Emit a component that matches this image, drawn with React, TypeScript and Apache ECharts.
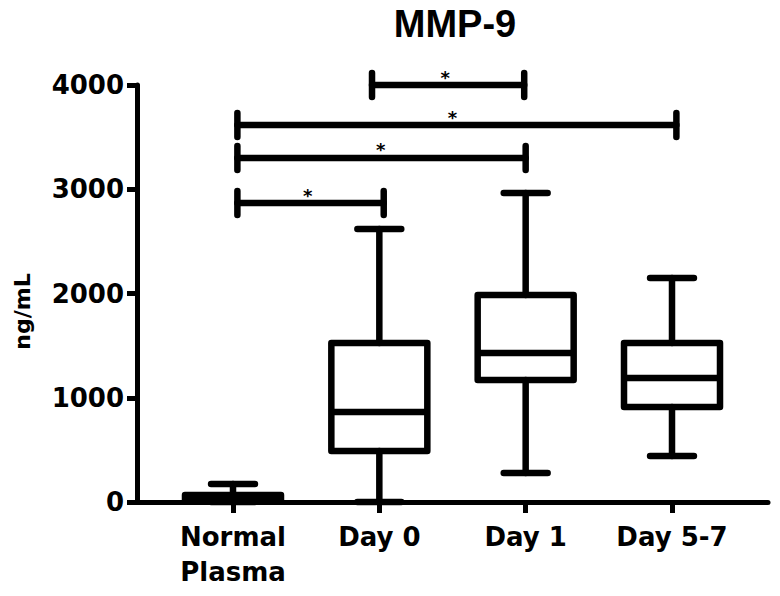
import React, { useEffect, useRef } from "react";
import * as echarts from "echarts";

// Categories (x positions 0..3)
const categories = ["Normal\nPlasma", "Day 0", "Day 1", "Day 5-7"];
// Box-and-whisker values (ng/mL)
const whiskerLow = [0, 0, 278, 441];
const q1 = [15, 489, 1170, 911];
const median = [40, 863, 1429, 1189];
const q3 = [67, 1525, 1986, 1525];
const whiskerHigh = [173, 2619, 2964, 2149];

// Significance brackets (x in category units, level in ng/mL)
const sigFrom = [0.95, 0.03, 0.03, 0.03];
const sigTo = [1.99, 3.03, 2.0, 1.03];
const sigLevel = [4000, 3616, 3300, 2868];
const sigStarAt = [1.45, 1.5, 1.01, 0.51];
const sigLabel = ["*", "*", "*", "*"];

const yTicks = [0, 1000, 2000, 3000, 4000];

export default function App() {
  const ref = useRef<HTMLDivElement>(null);
  useEffect(() => {
    if (!ref.current) return;
    const chart = echarts.init(ref.current, null, { renderer: "svg" });
    const boxData = categories.map((_, i) => [
      i,
      whiskerLow[i],
      q1[i],
      median[i],
      q3[i],
      whiskerHigh[i],
    ]);
    const sigData = sigFrom.map((f, i) => [f, sigTo[i], sigLevel[i], sigStarAt[i]]);
    const font = "DejaVu Sans";
    const option: any = {
      animation: false,
      backgroundColor: "#ffffff",
      title: {
        text: "MMP-9",
        left: 450,
        top: 0,
        textAlign: "center",
        textStyle: {
          fontFamily: "Liberation Sans",
          fontWeight: "bold",
          fontSize: 38,
          color: "#000",
        },
      },
      grid: { left: 137, right: 12, top: 85, bottom: 94 },
      xAxis: {
        type: "value",
        min: -0.656,
        max: 3.656,
        splitLine: { show: false },
        axisLine: { onZero: false, lineStyle: { color: "#000", width: 5 } },
        axisTick: {
          customValues: [0, 1, 2, 3],
          length: 11,
          lineStyle: { color: "#000", width: 5 },
        },
        axisLabel: {
          customValues: [0, 1, 2, 3],
          formatter: (v: number) => categories[Math.round(v)],
          margin: 17,
          fontFamily: font,
          fontWeight: "bold",
          fontSize: 26,
          lineHeight: 35,
          color: "#000",
        },
      },
      yAxis: {
        type: "value",
        min: yTicks[0],
        max: yTicks[yTicks.length - 1],
        interval: 1000,
        name: "ng/mL",
        nameLocation: "middle",
        nameGap: 104,
        nameRotate: 90,
        nameTextStyle: {
          fontFamily: font,
          fontWeight: "bold",
          fontSize: 22,
          color: "#000",
          padding: [0, 36, 0, 0],
        },
        splitLine: { show: false },
        axisLine: { show: true, onZero: false, lineStyle: { color: "#000", width: 5 } },
        axisTick: { show: true, length: 10, lineStyle: { color: "#000", width: 5 } },
        axisLabel: {
          margin: 13,
          formatter: (v: number) => String(v),
          fontFamily: font,
          fontWeight: "bold",
          fontSize: 26,
          color: "#000",
        },
      },
      series: [
        {
          type: "custom",
          name: "MMP-9",
          data: boxData,
          encode: { x: 0, y: [1, 2, 3, 4, 5] },
          clip: false,
          renderItem: (params: any, api: any) => {
            const i = api.value(0);
            const lo = api.coord([i, api.value(1)]);
            const b1 = api.coord([i, api.value(2)]);
            const md = api.coord([i, api.value(3)]);
            const b3 = api.coord([i, api.value(4)]);
            const hi = api.coord([i, api.value(5)]);
            const boxHalf = api.size([0.656, 0])[0] / 2;
            const capHalf = api.size([0.3, 0])[0] / 2;
            const cx = lo[0];
            const ls = { stroke: "#000", lineWidth: 6.5, lineCap: "round" };
            return {
              type: "group",
              children: [
                { type: "line", shape: { x1: cx, y1: hi[1], x2: cx, y2: b3[1] }, style: ls },
                { type: "line", shape: { x1: cx, y1: b1[1], x2: cx, y2: lo[1] }, style: ls },
                {
                  type: "line",
                  shape: { x1: cx - capHalf, y1: hi[1], x2: cx + capHalf, y2: hi[1] },
                  style: ls,
                },
                {
                  type: "line",
                  shape: { x1: cx - capHalf, y1: lo[1], x2: cx + capHalf, y2: lo[1] },
                  style: ls,
                },
                {
                  type: "rect",
                  shape: {
                    x: cx - boxHalf,
                    y: b3[1],
                    width: boxHalf * 2,
                    height: b1[1] - b3[1],
                  },
                  style: { stroke: "#000", lineWidth: 6.5, fill: "none", lineJoin: "round" },
                },
                {
                  type: "line",
                  shape: { x1: cx - boxHalf, y1: md[1], x2: cx + boxHalf, y2: md[1] },
                  style: { stroke: "#000", lineWidth: 6.5 },
                },
              ],
            };
          },
        },
        {
          type: "custom",
          name: "significance",
          data: sigData,
          encode: { x: [0, 1, 3], y: 2 },
          clip: false,
          renderItem: (params: any, api: any) => {
            const p1 = api.coord([api.value(0), api.value(2)]);
            const p2 = api.coord([api.value(1), api.value(2)]);
            const ps = api.coord([api.value(3), api.value(2)]);
            const ls = { stroke: "#000", lineWidth: 6.5, lineCap: "round" };
            return {
              type: "group",
              children: [
                { type: "line", shape: { x1: p1[0], y1: p1[1], x2: p2[0], y2: p2[1] }, style: ls },
                { type: "line", shape: { x1: p1[0], y1: p1[1] - 12, x2: p1[0], y2: p1[1] + 12 }, style: ls },
                { type: "line", shape: { x1: p2[0], y1: p2[1] - 12, x2: p2[0], y2: p2[1] + 12 }, style: ls },
                {
                  type: "text",
                  x: ps[0],
                  y: ps[1] - 8,
                  style: {
                    text: sigLabel[params.dataIndex],
                    fontFamily: font,
                    fontWeight: "bold",
                    fontSize: 18,
                    fill: "#000",
                    align: "center",
                    verticalAlign: "middle",
                  },
                },
              ],
            };
          },
        },
      ],
    };
    chart.setOption(option);
    return () => chart.dispose();
  }, []);
  return (
    <div
      ref={ref}
      style={{ position: "fixed", left: 0, top: 0, width: 780, height: 596, background: "#fff" }}
    />
  );
}
